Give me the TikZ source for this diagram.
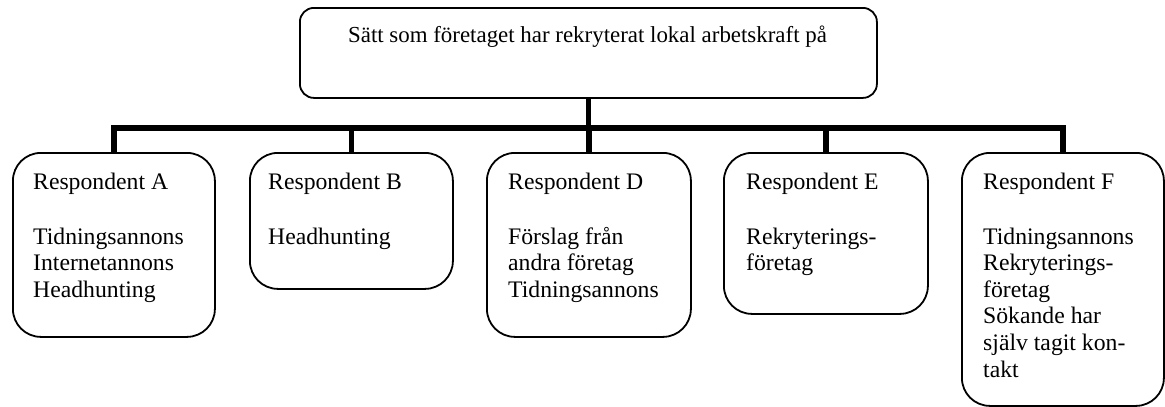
\documentclass[tikz,border=0pt]{standalone}
\usepackage{fontspec}
\setmainfont{Liberation Serif}
\usetikzlibrary{calc}

\tikzset{
  orgbox/.style={draw=black, line width=1.8pt, rectangle, rounded corners=28pt,
                 inner sep=0pt, anchor=north west, fill=white},
  topbox/.style={orgbox, rounded corners=14pt},
  bodytext/.style={inner sep=0pt, anchor=base west,
                   font=\fontsize{23.7pt}{26.6pt}\selectfont},
  headtext/.style={inner sep=0pt, anchor=base,
                   font=\fontsize{22.9pt}{26.6pt}\selectfont},
  bar/.style={line width=5.6pt, line join=miter, draw=black}
}

\newcommand{\boxlines}[1]{\parbox[t]{175pt}{\raggedright #1}}

\begin{document}
\begin{tikzpicture}[x=1pt, y=-1pt]
  \useasboundingbox (0,0) rectangle (1165,407);

  % heading box
  \node[topbox, minimum width=577pt, minimum height=90pt] (T) at (299,7) {};
  \node[headtext] (Tt) at (587.5,42)
    {Sätt som företaget har rekryterat lokal arbetskraft på};

  % respondent boxes
  \node[orgbox, minimum width=202pt, minimum height=184pt] (A) at (12,152) {};
  \node[orgbox, minimum width=203pt, minimum height=136pt] (B) at (249,152) {};
  \node[orgbox, minimum width=204pt, minimum height=184pt] (D) at (486,152) {};
  \node[orgbox, minimum width=204pt, minimum height=161pt] (E) at (723,152) {};
  \node[orgbox, minimum width=202pt, minimum height=253pt] (F) at (961,152) {};

  % connectors
  \coordinate (busline) at (0,128);
  \draw[bar] (T.south) -- (T.south |- busline);
  \draw[bar] (A.north) -- (A.north |- busline) -- (F.north |- busline) -- (F.north);
  \draw[bar] (B.north) -- (B.north |- busline);
  \draw[bar] (D.north) -- (D.north |- busline);
  \draw[bar] (E.north) -- (E.north |- busline);

  % box texts
  \node[bodytext] (At) at (33,189) {\boxlines{Respondent A\\[28.4pt]Tidningsannons\\Internetannons\\Headhunting}};
  \node[bodytext] (Bt) at (268,189) {\boxlines{Respondent B\\[28.4pt]Headhunting}};
  \node[bodytext] (Dt) at (508,189) {\boxlines{Respondent D\\[28.4pt]Förslag från\\andra företag\\Tidningsannons}};
  \node[bodytext] (Et) at (746,189) {\boxlines{Respondent E\\[28.4pt]Rekryterings-\\företag}};
  \node[bodytext] (Ft) at (983,189) {\boxlines{Respondent F\\[28.4pt]Tidningsannons\\Rekryterings-\\företag\\Sökande har\\själv tagit kon-\\takt}};
\end{tikzpicture}
\end{document}
